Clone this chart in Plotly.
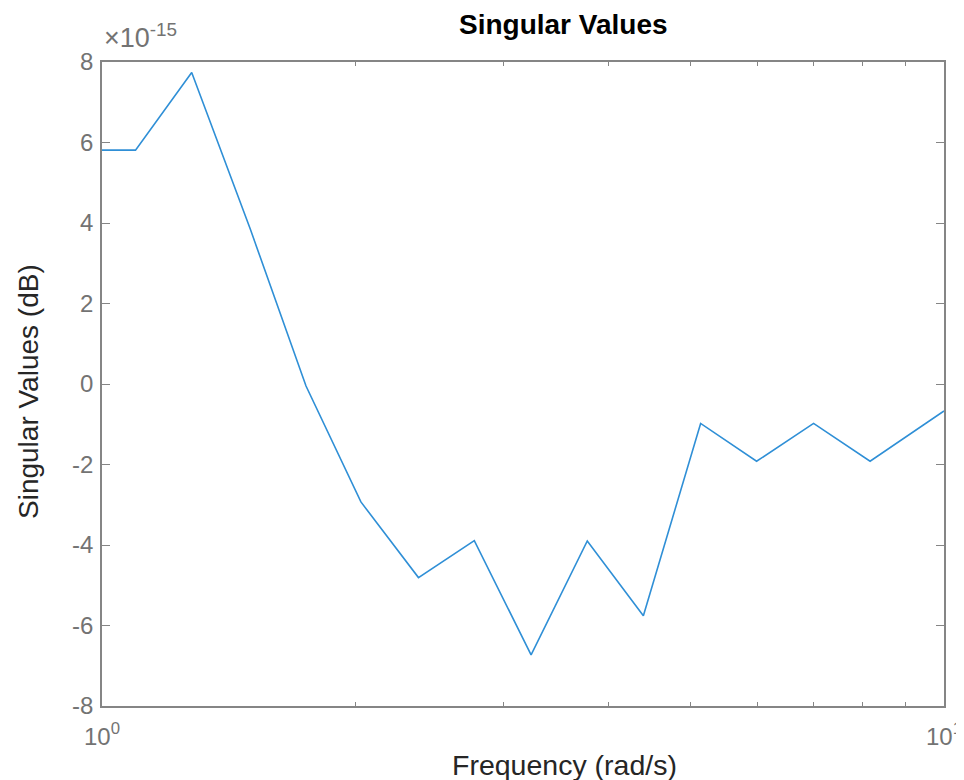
import plotly.graph_objects as go

# Data (singular values in units of 1e-15 dB)
frequency = [1.0, 1.096, 1.278, 1.50, 1.747, 2.03, 2.376, 2.768, 3.233,
             3.77, 4.395, 5.14, 5.99, 7.0, 8.17, 10.0]
sv_scaled = [5.81, 5.81, 7.74, 3.85, -0.05, -2.93, -4.81, -3.89, -6.73,
             -3.90, -5.76, -0.98, -1.92, -0.98, -1.92, -0.67]
exponent = -15
y_ticks = [-8, -6, -4, -2, 0, 2, 4, 6, 8]
y_tick_text = [str(v) for v in y_ticks]
x_ticks = [1, 10]
x_tick_text = ["10<sup>0</sup>", "10<sup>1</sup>"]
x_minor = [2, 3, 4, 5, 6, 7, 8, 9]

FONT = "Liberation Sans, Arial, Helvetica, sans-serif"
AXIS_COLOR = "#858585"
TICK_TEXT = "#737373"

# the page body has an 8px default margin, so the figure is 8px smaller
fig = go.Figure()
fig.add_trace(go.Scatter(
    x=frequency, y=sv_scaled, mode="lines",
    line=dict(color="#2f8fd6", width=1.6),
    showlegend=False, hoverinfo="x+y"))

PL, PT, PW, PH = 102, 62, 842, 644  # plot area in page pixels

fig.update_layout(
    width=956, height=772,
    margin=dict(l=PL - 8, r=20, t=PT - 8, b=74, autoexpand=False),
    paper_bgcolor="white", plot_bgcolor="white",
    font=dict(family=FONT),
    xaxis=dict(
        type="log", range=[0, 1],
        tickvals=x_ticks, ticktext=x_tick_text,
        ticks="inside", ticklen=8, tickwidth=1, tickcolor=AXIS_COLOR,
        minor=dict(tickvals=x_minor, ticks="inside", ticklen=4,
                   tickcolor=AXIS_COLOR, showgrid=False),
        showline=True, linecolor=AXIS_COLOR, linewidth=1.5,
        mirror="allticks", showgrid=False, zeroline=False,
        tickfont=dict(size=24, color=TICK_TEXT),
        ticklabelstandoff=8, automargin=False,
    ),
    yaxis=dict(
        range=[-8, 8], tickvals=y_ticks, ticktext=y_tick_text,
        ticks="inside", ticklen=8, tickwidth=1, tickcolor=AXIS_COLOR,
        showline=True, linecolor=AXIS_COLOR, linewidth=1.5,
        mirror="allticks", showgrid=False, zeroline=False,
        tickfont=dict(size=24, color=TICK_TEXT),
        ticklabelstandoff=2, automargin=False,
    ),
    annotations=[
        dict(text="<b>Singular Values</b>", xref="paper", yref="paper",
             x=(563.5 - PL) / PW, y=(PT + PH - 24) / PH, xanchor="center", yanchor="middle",
             showarrow=False, font=dict(size=28, color="#000000")),
        dict(text="Frequency (rad/s)", xref="paper", yref="paper",
             x=(564.5 - PL) / PW, y=(PT + PH - 765) / PH, xanchor="center", yanchor="middle",
             showarrow=False, font=dict(size=28.5, color="#262626")),
        dict(text="Singular Values (dB)", xref="paper", yref="paper",
             x=(28 - PL) / PW, y=(PT + PH - 392) / PH, xanchor="center", yanchor="middle",
             textangle=-90, showarrow=False, font=dict(size=28, color="#262626")),
        dict(text="×10<sup>%d</sup>" % exponent, xref="paper", yref="paper",
             x=0.0, y=(PT + PH - 55) / PH, xanchor="left", yanchor="bottom",
             showarrow=False, font=dict(size=27, color=TICK_TEXT)),
    ],
)

fig.write_html("out.html")
